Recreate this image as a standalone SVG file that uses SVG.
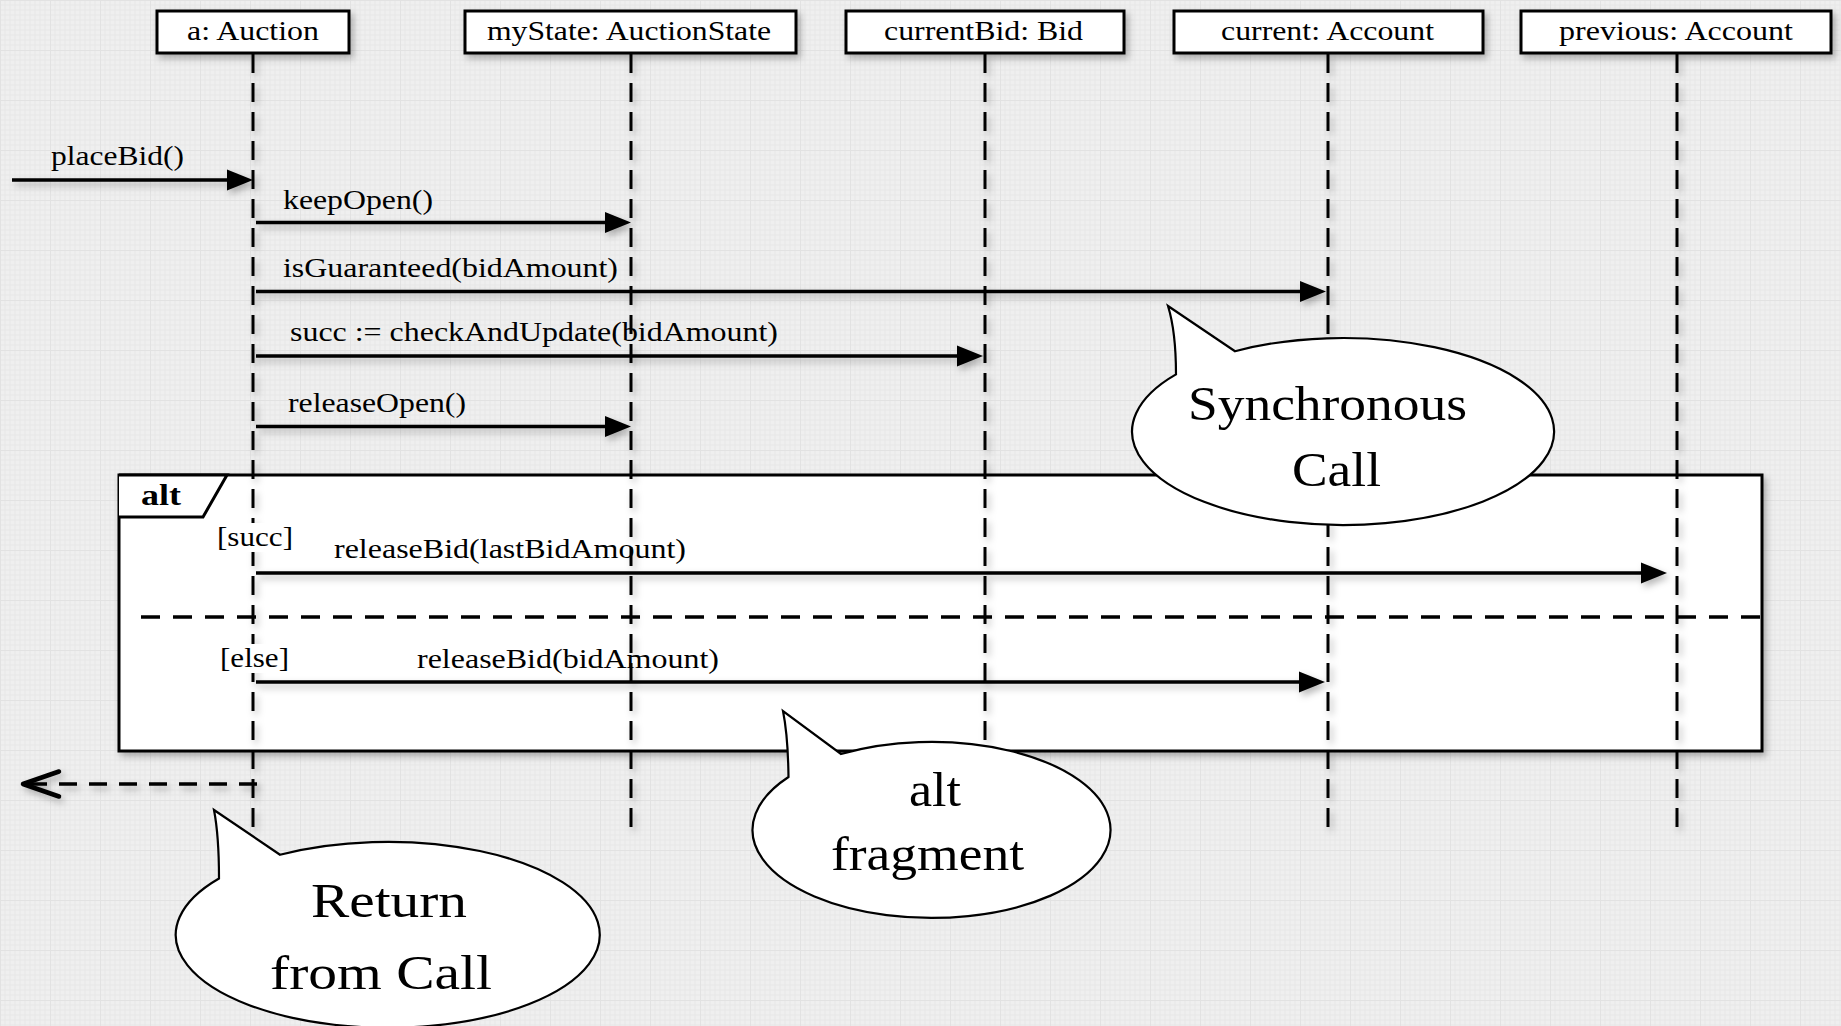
<svg xmlns="http://www.w3.org/2000/svg" width="1841" height="1026" viewBox="0 0 1841 1026">
  <style>
    .box { fill: #ffffff; stroke: #000000; stroke-width: 3; }
    .lbl { font-family: "Liberation Serif", "Times New Roman", serif; font-size: 28px; fill: #000000; }
    .big { font-family: "Liberation Serif", "Times New Roman", serif; font-size: 48px; fill: #000000; }
    .bold { font-family: "Liberation Serif", "Times New Roman", serif; font-size: 30px; font-weight: bold; fill: #000000; }
    .life { stroke: #000000; stroke-width: 3; stroke-dasharray: 19 10; fill: none; }
    .msg { stroke: #000000; stroke-width: 3.5; fill: none; marker-end: url(#arrow); }
    .ret { stroke: #000000; stroke-width: 3.5; fill: none; stroke-dasharray: 18 12; marker-end: url(#open); }
    .sep { stroke: #000000; stroke-width: 3.5; stroke-dasharray: 19 13; fill: none; }
    .bubble { fill: #ffffff; stroke: #000000; stroke-width: 2.2; }
    .sh { filter: url(#shadow); }
  </style>
  <defs>
    <pattern id="grid" width="50" height="50" patternUnits="userSpaceOnUse">
      <rect width="50" height="50" fill="#efefef"/>
      <path d="M5 0V50M10 0V50M15 0V50M20 0V50M25 0V50M30 0V50M35 0V50M40 0V50M45 0V50M0 5H50M0 10H50M0 15H50M0 20H50M0 25H50M0 30H50M0 35H50M0 40H50M0 45H50" stroke="#e8e8e8" stroke-width="1"/>
      <path d="M0 0.5H50M0.5 0V50" stroke="#e2e2e2" stroke-width="1"/>
    </pattern>
    <filter id="shadow" filterUnits="userSpaceOnUse" x="0" y="0" width="1841" height="1026">
      <feDropShadow dx="3" dy="4" stdDeviation="3.5" flood-color="#000000" flood-opacity="0.28"/>
    </filter>
    <marker id="arrow" markerUnits="userSpaceOnUse" markerWidth="26" markerHeight="21" refX="14" refY="10.5" orient="auto" overflow="visible">
      <path d="M0,0 L26,10.5 L0,21 Z" fill="#000000"/>
    </marker>
    <marker id="open" markerUnits="userSpaceOnUse" markerWidth="40" markerHeight="28" refX="36" refY="12.5" orient="auto" overflow="visible">
      <path d="M0,0 L36,12.5 L0,25" fill="none" stroke="#000000" stroke-width="4.5" stroke-linejoin="round" stroke-linecap="round"/>
    </marker>
  </defs>

  <rect width="1841" height="1026" fill="url(#grid)"/>

  <g id="alt-fragment">
    <rect class="box sh" x="119" y="475" width="1643" height="276"/>
    <path d="M119,475 L227,475 L203,517 L119,517" fill="#ffffff" stroke="#000000" stroke-width="3"/>
    <text class="bold" x="141" y="505" textLength="40" lengthAdjust="spacingAndGlyphs">alt</text>
    <line class="sep" x1="141" y1="617" x2="1761" y2="617"/>
  </g>

  <g id="message-labels">
    <text class="lbl" x="51" y="165" textLength="133" lengthAdjust="spacingAndGlyphs">placeBid()</text>
    <text class="lbl" x="283" y="209" textLength="150" lengthAdjust="spacingAndGlyphs">keepOpen()</text>
    <text class="lbl" x="283" y="277" textLength="335" lengthAdjust="spacingAndGlyphs">isGuaranteed(bidAmount)</text>
    <text class="lbl" x="290" y="341" textLength="488" lengthAdjust="spacingAndGlyphs">succ := checkAndUpdate(bidAmount)</text>
    <text class="lbl" x="288" y="412" textLength="178" lengthAdjust="spacingAndGlyphs">releaseOpen()</text>
    <text class="lbl" x="334" y="558" textLength="352" lengthAdjust="spacingAndGlyphs">releaseBid(lastBidAmount)</text>
    <text class="lbl" x="417" y="668" textLength="302" lengthAdjust="spacingAndGlyphs">releaseBid(bidAmount)</text>
  </g>

  <g id="auction">
    <line class="life sh" x1="253" y1="54" x2="253" y2="828"/>
    <rect class="box sh" x="157" y="11" width="192" height="42"/>
    <text class="lbl" x="187" y="40" textLength="132" lengthAdjust="spacingAndGlyphs">a: Auction</text>
  </g>
  <g id="mystate">
    <line class="life sh" x1="631" y1="54" x2="631" y2="828"/>
    <rect class="box sh" x="465" y="11" width="331" height="42"/>
    <text class="lbl" x="487" y="40" textLength="284" lengthAdjust="spacingAndGlyphs">myState: AuctionState</text>
  </g>
  <g id="currentbid">
    <line class="life sh" x1="985" y1="54" x2="985" y2="828"/>
    <rect class="box sh" x="846" y="11" width="278" height="42"/>
    <text class="lbl" x="884" y="40" textLength="199" lengthAdjust="spacingAndGlyphs">currentBid: Bid</text>
  </g>
  <g id="current">
    <line class="life sh" x1="1328" y1="54" x2="1328" y2="828"/>
    <rect class="box sh" x="1174" y="11" width="309" height="42"/>
    <text class="lbl" x="1221" y="40" textLength="213" lengthAdjust="spacingAndGlyphs">current: Account</text>
  </g>
  <g id="previous">
    <line class="life sh" x1="1677" y1="54" x2="1677" y2="828"/>
    <rect class="box sh" x="1521" y="11" width="310" height="42"/>
    <text class="lbl" x="1559" y="40" textLength="234" lengthAdjust="spacingAndGlyphs">previous: Account</text>
  </g>

  <g id="guards">
    <rect x="214" y="523" width="82" height="29" fill="#ffffff"/>
    <text class="lbl" x="217" y="546" textLength="76" lengthAdjust="spacingAndGlyphs">[succ]</text>
    <rect x="217" y="644" width="75" height="29" fill="#ffffff"/>
    <text class="lbl" x="220" y="667" textLength="69" lengthAdjust="spacingAndGlyphs">[else]</text>
  </g>

  <g id="connectors">
    <line class="msg sh" x1="12" y1="180" x2="241" y2="180"/>
    <line class="msg sh" x1="256" y1="222.5" x2="619" y2="222.5"/>
    <line class="msg sh" x1="256" y1="291.5" x2="1314" y2="291.5"/>
    <line class="msg sh" x1="256" y1="356" x2="971" y2="356"/>
    <line class="msg sh" x1="256" y1="426.5" x2="619" y2="426.5"/>
    <line class="msg sh" x1="256" y1="573" x2="1655" y2="573"/>
    <line class="msg sh" x1="256" y1="682" x2="1313" y2="682"/>
    <line class="ret sh" x1="257" y1="784" x2="23" y2="784"/>
  </g>

  <g id="note-synchronous">
    <path class="bubble" d="M1176,374.4 Q1176,332 1168,306 L1235,351.2 A211,93.5 0 1,1 1176,374.4 Z"/>
    <text class="big" x="1188" y="420" textLength="279" lengthAdjust="spacingAndGlyphs">Synchronous</text>
    <text class="big" x="1292" y="486" textLength="89" lengthAdjust="spacingAndGlyphs">Call</text>
  </g>
  <g id="note-alt">
    <path class="bubble" d="M788.5,777 Q788,736 783,711 L841,754 A179,88 0 1,1 788.5,777 Z"/>
    <text class="big" x="909" y="806" textLength="52" lengthAdjust="spacingAndGlyphs">alt</text>
    <text class="big" x="831" y="870" textLength="193" lengthAdjust="spacingAndGlyphs">fragment</text>
  </g>
  <g id="note-return">
    <path class="bubble" d="M219,878.5 Q219,836 214,810 L280,854.7 A212,93 0 1,1 219,878.5 Z"/>
    <text class="big" x="311" y="917" textLength="156" lengthAdjust="spacingAndGlyphs">Return</text>
    <text class="big" x="270" y="989" textLength="222" lengthAdjust="spacingAndGlyphs">from Call</text>
  </g>
</svg>
